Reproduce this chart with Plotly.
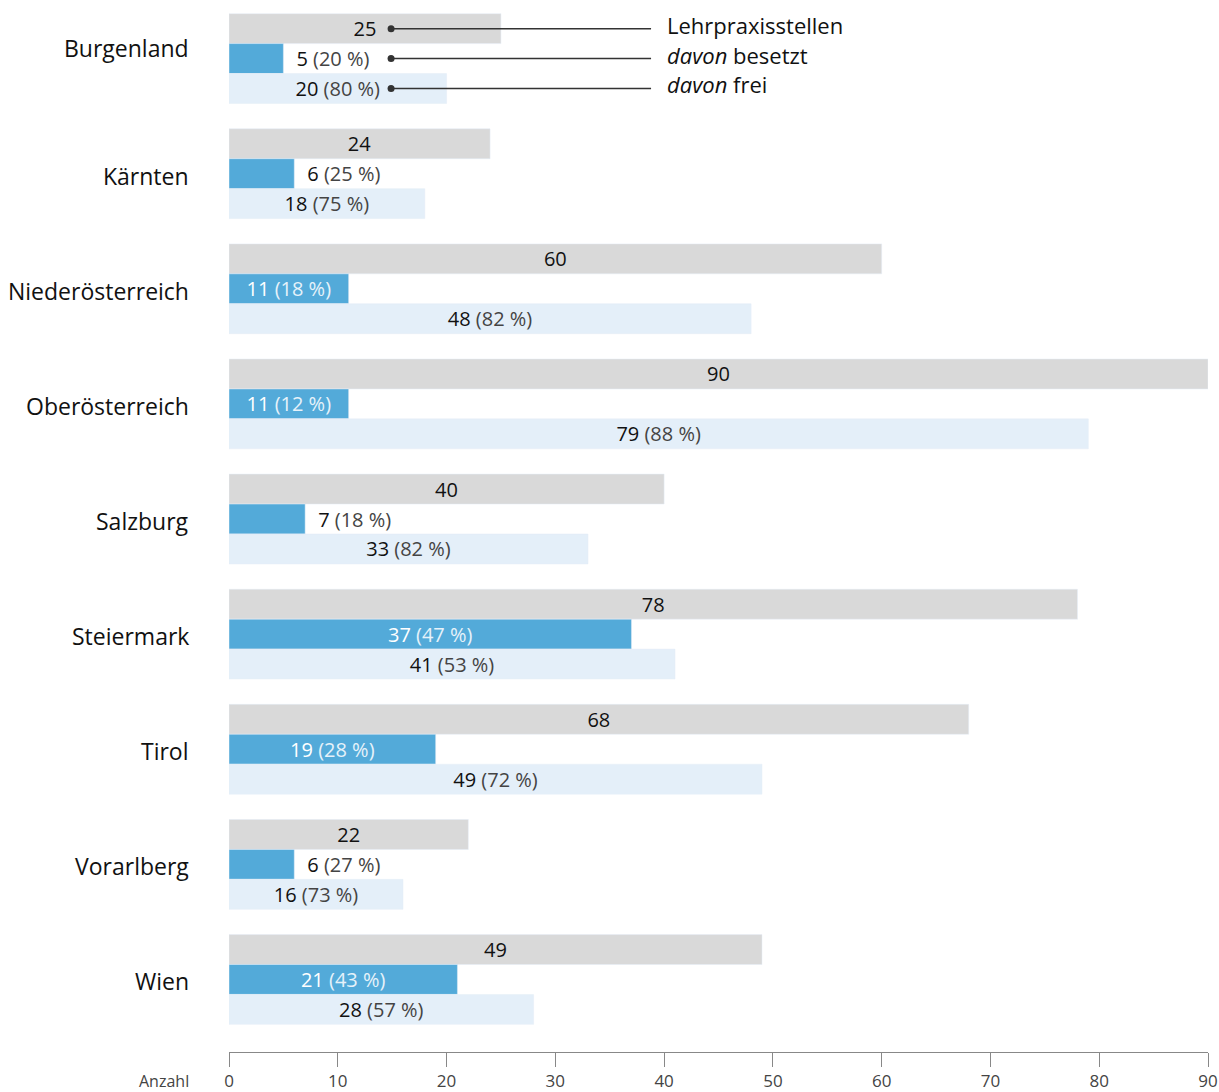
import plotly.graph_objects as go

laender = ["Burgenland", "Kärnten", "Niederösterreich", "Oberösterreich", "Salzburg",
           "Steiermark", "Tirol", "Vorarlberg", "Wien"]
gesamt = [25, 24, 60, 90, 40, 78, 68, 22, 49]
besetzt = [5, 6, 11, 11, 7, 37, 19, 6, 21]
besetzt_pct = [20, 25, 18, 12, 18, 47, 28, 27, 43]
frei = [20, 18, 48, 79, 33, 41, 49, 16, 28]
frei_pct = [80, 75, 82, 88, 82, 53, 72, 73, 57]
x_ticks = [0, 10, 20, 30, 40, 50, 60, 70, 80, 90]
legend_labels = ["Lehrpraxisstellen", "<i>davon</i> besetzt", "<i>davon</i> frei"]

GRAY = "#d9d9d9"
BLUE = "#53aad9"
LIGHT = "#e4eff9"
FONT = "Open Sans"

fig = go.Figure()

fig.add_trace(go.Bar(
    y=laender, x=gesamt, orientation="h", marker_color=GRAY,
    text=[str(v) for v in gesamt], textposition="inside", insidetextanchor="middle",
    textangle=0,
    textfont=dict(color="#111", size=20, family=FONT), constraintext="none",
    hoverinfo="skip", name="Lehrpraxisstellen"))

blue_pos = ["inside" if v >= 10 else "outside" for v in besetzt]
blue_text = []
for v, p in zip(besetzt, besetzt_pct):
    if v >= 10:
        blue_text.append(f"{v} <span style='color:#e6f2fa'>({p} %)</span>")
    else:
        blue_text.append(f"\u2002{v} <span style='color:#444'>({p} %)</span>")
fig.add_trace(go.Bar(
    y=laender, x=besetzt, orientation="h", marker_color=BLUE,
    text=blue_text, textposition=blue_pos, insidetextanchor="middle", textangle=0,
    insidetextfont=dict(color="white", size=20, family=FONT),
    outsidetextfont=dict(color="#111", size=20, family=FONT),
    constraintext="none", cliponaxis=False, hoverinfo="skip", name="besetzt"))

fig.add_trace(go.Bar(
    y=laender, x=frei, orientation="h", marker_color=LIGHT,
    text=[f"{v} <span style='color:#444'>({p} %)</span>" for v, p in zip(frei, frei_pct)],
    textposition="inside", insidetextanchor="middle", textangle=0,
    textfont=dict(color="#111", size=20, family=FONT), constraintext="none",
    hoverinfo="skip", name="frei"))

# category labels (first one raised, as in the original layout)
for i, name in enumerate(laender):
    fig.add_annotation(x=0, y=i, xref="paper", yref="y", text=name, showarrow=False,
                       xanchor="right", yanchor="middle", xshift=-38,
                       yshift=11 if i == 0 else -2,
                       font=dict(size=23, color="#111", family=FONT))

# legend-like callouts next to the first group
offsets = [-0.26, 0.0, 0.26]
for off, lab in zip(offsets, legend_labels):
    fig.add_shape(type="line", xref="x", yref="y", x0=14.9, x1=38.8, y0=off, y1=off,
                  line=dict(color="#333", width=1.5))
    fig.add_annotation(x=40.05, y=off, xref="x", yref="y", text=lab, showarrow=False,
                       xanchor="left", yanchor="middle", yshift=4,
                       font=dict(size=22, color="#111", family=FONT))

fig.add_trace(go.Scatter(x=[14.9] * 3, y=offsets, mode="markers",
                         marker=dict(color="#333", size=7), hoverinfo="skip",
                         showlegend=False, yaxis="y2"))

fig.add_annotation(x=0, y=0, xref="paper", yref="paper", text="Anzahl", showarrow=False,
                   xanchor="right", yanchor="middle", xshift=-38, yshift=-29,
                   font=dict(size=16, color="#444", family=FONT))

fig.update_layout(
    width=1219, height=1092,
    margin=dict(l=229, r=11, t=1, b=40),
    barmode="group", bargap=0.22, bargroupgap=0,
    plot_bgcolor="white", paper_bgcolor="white",
    showlegend=False,
    font=dict(family=FONT),
    xaxis=dict(range=[0, 90], tickvals=x_ticks, showgrid=False, zeroline=False,
               showline=True, linecolor="#888", linewidth=1,
               ticks="outside", ticklen=14, tickcolor="#888",
               tickfont=dict(size=17, color="#444", family=FONT)),
    yaxis=dict(type="category", categoryorder="array", categoryarray=laender,
               range=[8.63, -0.5], showgrid=False, zeroline=False, showline=False,
               ticks="", showticklabels=False),
    yaxis2=dict(overlaying="y", range=[8.63, -0.5], visible=False),
)

fig.write_html("out.html")
